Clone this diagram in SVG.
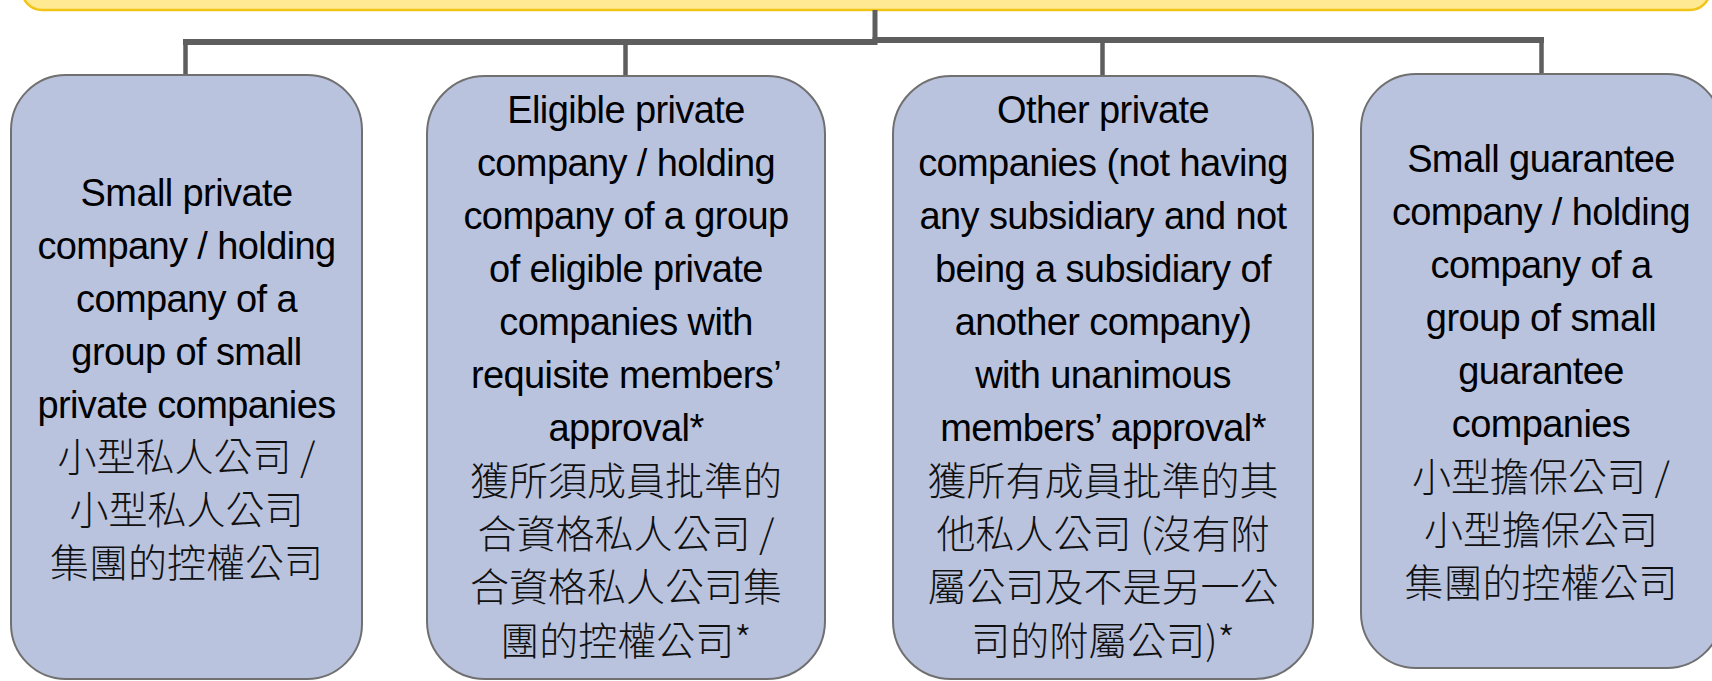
<svg xmlns="http://www.w3.org/2000/svg" width="1712" height="681" viewBox="0 0 1712 681">
<style>
.box{fill:#B9C3DE;stroke:#707070;stroke-width:2}
.en{font-family:"Liberation Sans",Arial,sans-serif;font-size:38px;letter-spacing:-0.6px;fill:#000;text-anchor:middle}
.zh{font-family:"Noto Sans CJK TC","Noto Sans CJK SC",sans-serif;font-size:39px;font-weight:300;fill:#111;text-anchor:middle}
.ln{stroke:#5E5E5E;fill:none}
</style>
<rect width="1712" height="681" fill="#FFFFFF"/>
<g id="top">
<rect x="22" y="-60" width="1688" height="70" rx="20" fill="#FFE992" stroke="#F2C417" stroke-width="2.5"/>
</g>
<g id="connectors">
<line class="ln" x1="875" y1="10" x2="875" y2="42" stroke-width="5"/>
<line class="ln" x1="183" y1="42" x2="877.5" y2="42" stroke-width="6"/>
<line class="ln" x1="872.5" y1="40" x2="1544" y2="40" stroke-width="6"/>
<line class="ln" x1="185.5" y1="40" x2="185.5" y2="75" stroke-width="4.5"/>
<line class="ln" x1="625.5" y1="42" x2="625.5" y2="77" stroke-width="4.5"/>
<line class="ln" x1="1102.5" y1="40" x2="1102.5" y2="77" stroke-width="4.5"/>
<line class="ln" x1="1541.5" y1="40" x2="1541.5" y2="75" stroke-width="4.5"/>
</g>
<g id="node1">
<rect class="box" x="11" y="75" width="351" height="604" rx="55"/>
<text class="en" x="186.5" y="206">Small private</text>
<text class="en" x="186.5" y="259">company / holding</text>
<text class="en" x="186.5" y="312">company of a</text>
<text class="en" x="186.5" y="365">group of small</text>
<text class="en" x="186.5" y="418">private companies</text>
<text class="zh" x="186.5" y="471">小型私人公司 /</text>
<text class="zh" x="186.5" y="524">小型私人公司</text>
<text class="zh" x="186.5" y="577">集團的控權公司</text>
</g>
<g id="node2">
<rect class="box" x="427" y="76" width="398" height="603" rx="58"/>
<text class="en" x="626" y="123">Eligible private</text>
<text class="en" x="626" y="176">company / holding</text>
<text class="en" x="626" y="229">company of a group</text>
<text class="en" x="626" y="282">of eligible private</text>
<text class="en" x="626" y="335">companies with</text>
<text class="en" x="626" y="388">requisite members’</text>
<text class="en" x="626" y="441">approval*</text>
<text class="zh" x="626" y="495">獲所須成員批準的</text>
<text class="zh" x="626" y="548">合資格私人公司 /</text>
<text class="zh" x="626" y="601">合資格私人公司集</text>
<text class="zh" x="626" y="655">團的控權公司*</text>
</g>
<g id="node3">
<rect class="box" x="893" y="76" width="420" height="603" rx="58"/>
<text class="en" x="1103" y="123">Other private</text>
<text class="en" x="1103" y="176">companies (not having</text>
<text class="en" x="1103" y="229">any subsidiary and not</text>
<text class="en" x="1103" y="282">being a subsidiary of</text>
<text class="en" x="1103" y="335">another company)</text>
<text class="en" x="1103" y="388">with unanimous</text>
<text class="en" x="1103" y="441">members’ approval*</text>
<text class="zh" x="1103" y="495">獲所有成員批準的其</text>
<text class="zh" x="1103" y="548">他私人公司 (沒有附</text>
<text class="zh" x="1103" y="601">屬公司及不是另一公</text>
<text class="zh" x="1103" y="655">司的附屬公司)*</text>
</g>
<g id="node4">
<rect class="box" x="1361" y="74" width="361" height="594" rx="55"/>
<text class="en" x="1541" y="172">Small guarantee</text>
<text class="en" x="1541" y="225">company / holding</text>
<text class="en" x="1541" y="278">company of a</text>
<text class="en" x="1541" y="331">group of small</text>
<text class="en" x="1541" y="384">guarantee</text>
<text class="en" x="1541" y="437">companies</text>
<text class="zh" x="1541" y="491">小型擔保公司 /</text>
<text class="zh" x="1541" y="544">小型擔保公司</text>
<text class="zh" x="1541" y="597">集團的控權公司</text>
</g>
</svg>
